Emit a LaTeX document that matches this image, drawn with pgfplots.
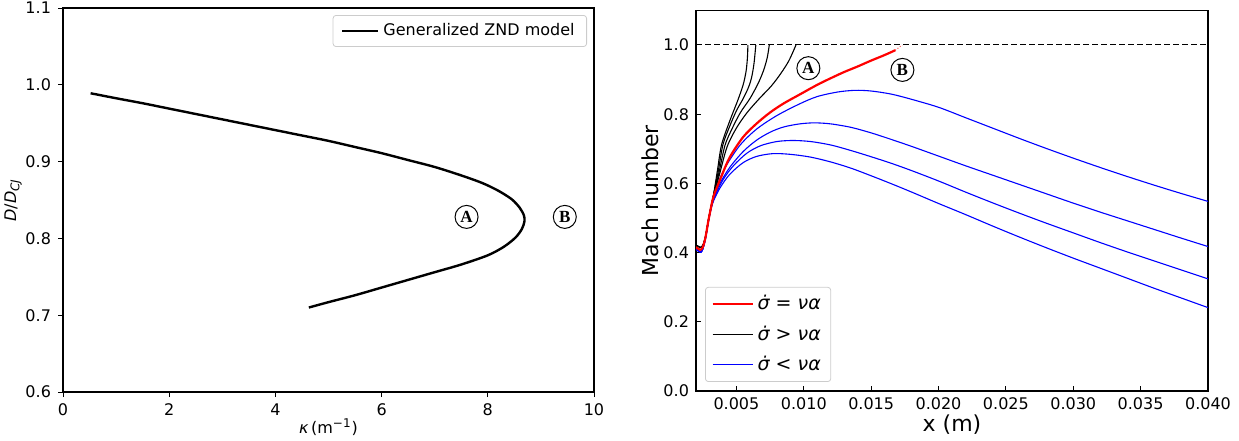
\documentclass[border=0pt]{standalone}
\usepackage{fontspec}
\setmainfont{DejaVu Sans}
\newfontfamily\seriffont{Liberation Serif}
\usepackage{pgfplots}
\pgfplotsset{compat=1.18}
\tikzset{circ/.style={circle, draw, line width=0.5pt, inner sep=0pt, minimum size=11.5pt,
    font=\seriffont\bfseries\fontsize{8.5}{9}\selectfont}}
\begin{document}
\begin{tikzpicture}
\pgfplotsset{
  every axis/.append style={
    scale only axis,
    /pgf/number format/assume math mode=true,
    tick label style={font=\fontsize{8}{9}\selectfont},
    axis line style={line width=0.6pt},
    major tick style={line width=0.5pt, black},
    major tick length=2.5pt,
    tick pos=left,
  },
}
% ---------------- left panel ----------------
\begin{axis}[
  at={(31.5pt,24pt)}, anchor=south west,
  width=265.5pt, height=192pt,
  xmin=0, xmax=10, ymin=0.6, ymax=1.1,
  xtick={0,2,4,6,8,10},
  ytick={0.6,0.7,0.8,0.9,1.0,1.1},
  yticklabel style={/pgf/number format/.cd, fixed, fixed zerofill, precision=1},
  tick align=outside,
  xlabel={\textit{κ}\,(m\textsuperscript{−1})},
  ylabel={\textit{D}/\textit{D}\textsubscript{\textit{CJ}}},
  label style={font=\fontsize{8}{9}\selectfont},
  xlabel style={at={(axis description cs:0.5,-0.091)}, anchor=center},
  ylabel style={at={(axis description cs:-0.094,0.5)}, anchor=center},
  legend style={at={(rel axis cs:1,1)}, anchor=north east, xshift=-3.5pt, yshift=-3.5pt,
    draw=black!20, rounded corners=1.5pt, font=\fontsize{8}{9}\selectfont,
    inner xsep=4pt, inner ysep=2pt},
  legend image code/.code={\draw[#1] (0pt,0pt) -- (18pt,0pt);},
]
\addplot[black, line width=1.2pt, smooth] coordinates {
(0.52,0.989) (1.0,0.9825) (1.5,0.976) (2.0,0.969) (2.5,0.962) (3.0,0.955) (3.5,0.948)
(4.0,0.941) (4.5,0.934) (5.0,0.927) (5.5,0.919) (6.0,0.911) (6.5,0.902) (7.0,0.893)
(7.5,0.882) (7.9,0.872) (8.2,0.862) (8.45,0.851) (8.6,0.840) (8.68,0.830) (8.69,0.822)
(8.64,0.812) (8.52,0.801) (8.3,0.789) (8.0,0.778) (7.5,0.766) (7.0,0.756) (6.5,0.746)
(6.0,0.736) (5.5,0.726) (5.0,0.717) (4.63,0.710)
};
\addlegendentry{Generalized ZND model}
\node[circ] at (axis cs:7.6,0.828) {A};
\node[circ] at (axis cs:9.45,0.828) {B};
\end{axis}
% ---------------- right panel ----------------
\begin{axis}[
  at={(348pt,24.5pt)}, anchor=south west,
  width=256pt, height=190.3pt,
  xmin=0.002, xmax=0.040, ymin=0, ymax=1.1,
  xtick={0.005,0.010,0.015,0.020,0.025,0.030,0.035,0.040},
  ytick={0,0.2,0.4,0.6,0.8,1.0},
  scaled x ticks=false,
  xticklabel style={/pgf/number format/.cd, fixed, fixed zerofill, precision=3},
  yticklabel style={/pgf/number format/.cd, fixed, fixed zerofill, precision=1},
  tick align=inside,
  xlabel={x (m)}, ylabel={Mach number},
  label style={font=\fontsize{11}{12}\selectfont},
  xlabel style={at={(axis description cs:0.5,-0.087)}, anchor=center},
  ylabel style={at={(axis description cs:-0.09,0.5)}, anchor=center},
  legend style={at={(rel axis cs:0,0)}, anchor=south west, xshift=4.5pt, yshift=4.5pt,
    draw=black!20, rounded corners=1.5pt, font=\fontsize{9.5}{10}\selectfont,
    inner xsep=3pt, inner ysep=2pt, row sep=2.5pt},
  legend cell align=left,
  reverse legend,
  legend image code/.code={\draw[#1] (0pt,0pt) -- (20pt,0pt);},
]
% dashed reference line
\addplot[black, line width=0.5pt, dash pattern=on 3pt off 1.5pt, forget plot] coordinates {(0.002,1.0) (0.040,1.0)};
% blue curves
\addplot[blue, line width=0.55pt, smooth] coordinates {
(0.00200,0.410) (0.00220,0.404) (0.00235,0.401) (0.00250,0.410) (0.00270,0.440) (0.00290,0.485) (0.00304,0.514) (0.00330,0.560)
(0.00370,0.607) (0.00430,0.655) (0.00530,0.712) (0.00650,0.757) (0.00800,0.796) (0.00970,0.830) (0.01100,0.851)
(0.01250,0.864) (0.01380,0.869) (0.01500,0.867) (0.01650,0.858) (0.01800,0.843) (0.02000,0.820) (0.02200,0.790)
(0.02400,0.760) (0.02600,0.730) (0.02800,0.701) (0.03000,0.673) (0.03200,0.646) (0.03400,0.620) (0.03600,0.595)
(0.03800,0.571) (0.04000,0.548)
};
\addlegendentry{\textit{σ̇} < \textit{να}}
\addplot[blue, line width=0.55pt, smooth, forget plot] coordinates {
(0.00200,0.410) (0.00220,0.404) (0.00235,0.401) (0.00250,0.410) (0.00270,0.440) (0.00290,0.485) (0.00304,0.514) (0.00330,0.556)
(0.00375,0.598) (0.00450,0.646) (0.00550,0.692) (0.00650,0.725) (0.00750,0.748) (0.00850,0.763) (0.00970,0.772)
(0.01080,0.775) (0.01200,0.772) (0.01350,0.762) (0.01500,0.746) (0.01650,0.727) (0.01800,0.707) (0.02000,0.679)
(0.02200,0.651) (0.02400,0.624) (0.02600,0.597) (0.02800,0.570) (0.03000,0.543) (0.03200,0.517) (0.03400,0.492)
(0.03600,0.467) (0.03800,0.442) (0.04000,0.4175)
};
\addplot[blue, line width=0.55pt, smooth, forget plot] coordinates {
(0.00200,0.410) (0.00220,0.404) (0.00235,0.401) (0.00250,0.410) (0.00270,0.440) (0.00290,0.485) (0.00304,0.514) (0.00330,0.553)
(0.00400,0.610) (0.00480,0.652) (0.00580,0.688) (0.00680,0.709) (0.00800,0.721) (0.00920,0.724) (0.01050,0.721)
(0.01200,0.711) (0.01350,0.695) (0.01500,0.677) (0.01650,0.658) (0.01800,0.637) (0.02000,0.607) (0.02200,0.575)
(0.02400,0.544) (0.02600,0.514) (0.02800,0.485) (0.03000,0.457) (0.03200,0.429) (0.03400,0.402) (0.03600,0.376)
(0.03800,0.350) (0.04000,0.324)
};
\addplot[blue, line width=0.55pt, smooth, forget plot] coordinates {
(0.00200,0.410) (0.00220,0.404) (0.00235,0.401) (0.00250,0.410) (0.00270,0.440) (0.00290,0.485) (0.00304,0.514) (0.00330,0.549)
(0.00380,0.588) (0.00450,0.626) (0.00550,0.660) (0.00650,0.678) (0.00770,0.686) (0.00900,0.684) (0.01050,0.676)
(0.01200,0.662) (0.01350,0.644) (0.01500,0.622) (0.01650,0.599) (0.01800,0.575) (0.02000,0.542) (0.02200,0.510)
(0.02400,0.477) (0.02600,0.445) (0.02800,0.414) (0.03000,0.384) (0.03200,0.355) (0.03400,0.326) (0.03600,0.297)
(0.03800,0.269) (0.04000,0.241)
};
% black curves
\addplot[black, line width=0.55pt, smooth] coordinates {
(0.00200,0.422) (0.00230,0.415) (0.00250,0.420) (0.00270,0.445) (0.00290,0.490) (0.00304,0.518) (0.00330,0.567)
(0.00360,0.640) (0.00390,0.712) (0.00450,0.780) (0.00510,0.840) (0.00550,0.885) (0.00572,0.925) (0.00582,0.965) (0.00585,1.0)
};
\addlegendentry{\textit{σ̇} > \textit{να}}
\addplot[black, line width=0.55pt, smooth, forget plot] coordinates {
(0.00200,0.422) (0.00230,0.415) (0.00250,0.420) (0.00270,0.445) (0.00290,0.490) (0.00304,0.518) (0.00330,0.566)
(0.00365,0.635) (0.00400,0.712) (0.00450,0.765) (0.00500,0.810) (0.00550,0.845) (0.00590,0.878) (0.00612,0.905)
(0.00630,0.945) (0.00644,1.0)
};
\addplot[black, line width=0.55pt, smooth, forget plot] coordinates {
(0.00200,0.422) (0.00230,0.415) (0.00250,0.420) (0.00270,0.445) (0.00290,0.490) (0.00304,0.518) (0.00330,0.565)
(0.00370,0.630) (0.00415,0.710) (0.00470,0.760) (0.00530,0.805) (0.00600,0.845) (0.00660,0.888) (0.00700,0.925)
(0.00728,0.962) (0.00744,1.0)
};
\addplot[black, line width=0.55pt, smooth, forget plot] coordinates {
(0.00200,0.422) (0.00230,0.415) (0.00250,0.420) (0.00270,0.445) (0.00290,0.490) (0.00304,0.518) (0.00330,0.564)
(0.00375,0.627) (0.00430,0.705) (0.00500,0.760) (0.00580,0.805) (0.00670,0.845) (0.00760,0.882) (0.00830,0.918)
(0.00890,0.955) (0.00942,1.0)
};
% red critical curve
\addplot[red, line width=1.1pt, smooth] coordinates {
(0.00200,0.416) (0.00230,0.408) (0.00250,0.415) (0.00270,0.443) (0.00290,0.488) (0.00304,0.516) (0.00330,0.562)
(0.00380,0.612) (0.00450,0.675) (0.00550,0.734) (0.00650,0.773) (0.00750,0.805) (0.00850,0.831) (0.00970,0.857)
(0.01100,0.885) (0.01200,0.904) (0.01300,0.922) (0.01400,0.938) (0.01500,0.955) (0.01600,0.971) (0.01680,0.985)
};
\addlegendentry{\textit{σ̇} = \textit{να}}
\addplot[red, line width=0.4pt, densely dotted, forget plot] coordinates {(0.01680,0.985) (0.01730,1.0)};
\node[circ] at (axis cs:0.01034,0.933) {A};
\node[circ] at (axis cs:0.01732,0.928) {B};
\end{axis}
\pgfresetboundingbox
\path (0,0) rectangle (619.5pt,220pt);
\end{tikzpicture}
\end{document}
